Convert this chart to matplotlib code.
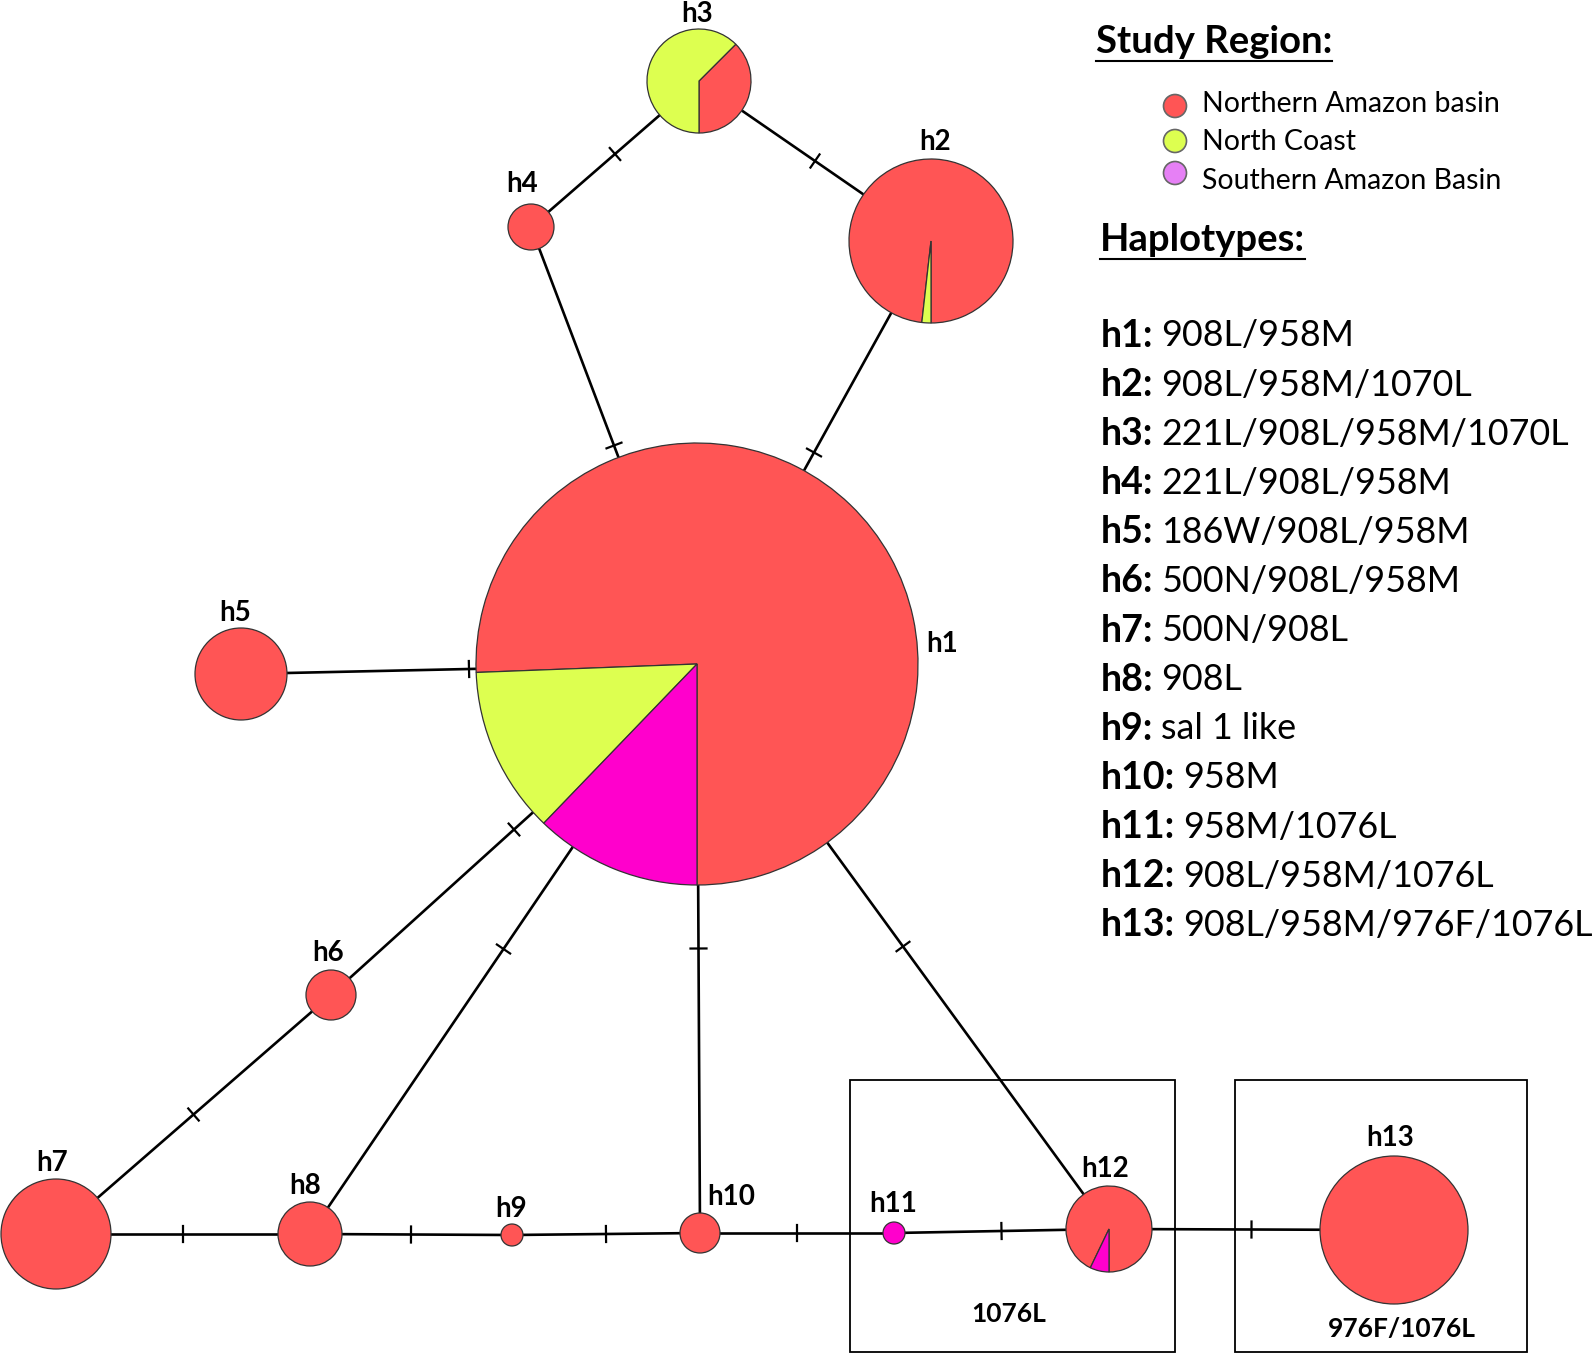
import numpy as np
import matplotlib
matplotlib.use('Agg')
import matplotlib.pyplot as plt
from matplotlib.patches import Circle, Rectangle

plt.rcParams['font.family'] = ['Lato', 'DejaVu Sans']

# 单倍型网络数据
names = ['h1', 'h2', 'h3', 'h4', 'h5', 'h6', 'h7', 'h8', 'h9', 'h10', 'h11', 'h12', 'h13']
# 各单倍型在三个区域的样本数 (北亚马逊, 北海岸, 南亚马逊)
north_amazon = [62, 55, 3, 1, 1, 1, 1, 1, 1, 1, 0, 13, 1]
north_coast = [10, 1, 5, 0, 0, 0, 0, 0, 0, 0, 0, 0, 0]
south_amazon = [10, 0, 0, 0, 0, 0, 0, 0, 0, 0, 1, 1, 0]
mutations = ['908L/958M', '908L/958M/1070L', '221L/908L/958M/1070L', '221L/908L/958M',
             '186W/908L/958M', '500N/908L/958M', '500N/908L', '908L', 'sal 1 like',
             '958M', '958M/1076L', '908L/958M/1076L', '908L/958M/976F/1076L']
edges = [('h3', 'h4'), ('h3', 'h2'), ('h4', 'h1'), ('h2', 'h1'), ('h5', 'h1'), ('h6', 'h1'),
         ('h6', 'h7'), ('h8', 'h1'), ('h10', 'h1'), ('h12', 'h1'), ('h7', 'h8'), ('h8', 'h9'),
         ('h9', 'h10'), ('h10', 'h11'), ('h11', 'h12'), ('h12', 'h13')]
regions = ['Northern Amazon basin', 'North Coast', 'Southern Amazon Basin']

# 布局 (像素坐标)
node_x = [697, 931, 699, 531, 241, 331, 56, 310, 512, 700, 894, 1109, 1394]
node_y = [664, 241, 81, 227, 674, 995, 1234, 1234, 1235, 1233, 1233, 1229, 1230]
radii = [221, 82, 52, 23, 46, 25, 55, 32, 11, 20, 11, 43, 74]
label_x = [942, 935, 697, 522, 235, 328, 52, 305, 511, 731, 893, 1105, 1390]
label_y = [644, 142, 14, 184, 613, 953, 1163, 1186, 1209, 1197, 1204, 1169, 1138]

colors = ['#FF5555', '#DDFF50', '#FF00CC']
legend_colors = ['#FF5555', '#DDFF50', '#E680F5']

W, H = 1594, 1356
fig = plt.figure(figsize=(W / 100, H / 100), dpi=100)
ax = fig.add_axes([0, 0, 1, 1])

pos = {n: (x, y) for n, x, y in zip(names, node_x, node_y)}

# 连线和突变刻度
for a, b in edges:
    (x1, y1), (x2, y2) = pos[a], pos[b]
    ax.plot([x1, x2], [y1, y2], color='black', lw=1.9, zorder=1, solid_capstyle='butt')
    mx, my = (x1 + x2) / 2, (y1 + y2) / 2
    d = np.array([x2 - x1, y2 - y1], dtype=float)
    d /= np.hypot(*d)
    p = np.array([-d[1], d[0]]) * 8
    ax.plot([mx - p[0], mx + p[0]], [my - p[1], my + p[1]], color='black', lw=1.6, zorder=1)

# 饼图节点
for i, n in enumerate(names):
    vals = [north_amazon[i], north_coast[i], south_amazon[i]]
    cols = [c for v, c in zip(vals, colors) if v > 0]
    vals = [v for v in vals if v > 0]
    wedges, _ = ax.pie(vals, colors=cols, center=pos[n], radius=radii[i], startangle=90,
                       counterclock=False, frame=True,
                       wedgeprops=dict(edgecolor='#333333', linewidth=0.9))
    for w in wedges:
        w.set_zorder(2)
    ax.text(label_x[i], label_y[i], n, fontsize=20, fontweight='bold', ha='center', va='center')

# 方框
ax.add_patch(Rectangle((850, 1080), 325, 272, fill=False, edgecolor='black', lw=1.3, zorder=0))
ax.add_patch(Rectangle((1235, 1080), 292, 272, fill=False, edgecolor='black', lw=1.3, zorder=0))
ax.text(1009, 1314, '1076L', fontsize=19, fontweight='bold', ha='center', va='center')
ax.text(1402, 1329, '976F/1076L', fontsize=19, fontweight='bold', ha='center', va='center')

# 图例
t1 = ax.text(1096, 42, 'Study Region:', fontsize=27.5, fontweight='bold', ha='left', va='center')
for k, (lab, c) in enumerate(zip(regions, legend_colors)):
    yy = [106, 141, 173][k]
    ax.add_patch(Circle((1175, yy), 11.5, facecolor=c, edgecolor='#666666', lw=1.2, zorder=3))
    ax.text(1202, [104, 142, 181][k], lab, fontsize=20.5, ha='left', va='center')
t2 = ax.text(1100, 240, 'Haplotypes:', fontsize=27.5, fontweight='bold', ha='left', va='center')

bold_labels = []
for i, n in enumerate(names):
    yy = 336 + i * 49.1
    bold_labels.append(ax.text(1101, yy, n + ':', fontsize=27, fontweight='bold', ha='left', va='center'))

ax.set_xlim(0, W)
ax.set_ylim(H, 0)
ax.set_aspect('equal')
ax.axis('off')

fig.canvas.draw()
r = fig.canvas.get_renderer()
inv = ax.transData.inverted()
for t, m in zip(bold_labels, mutations):
    bb = t.get_window_extent(r)
    x0 = inv.transform((bb.x1, bb.y0))[0]
    ax.text(x0 + 8, t.get_position()[1], m, fontsize=25.8, ha='left', va='center')
for t in (t1, t2):
    bb = t.get_window_extent(r)
    (xa, ya), (xb, _) = inv.transform([(bb.x0, bb.y0), (bb.x1, bb.y0)])
    ax.plot([xa, xb], [ya + 2, ya + 2], color='black', lw=1.5)

ax.set_xlim(0, W)
ax.set_ylim(H, 0)
fig.savefig('out.png', dpi=100)
